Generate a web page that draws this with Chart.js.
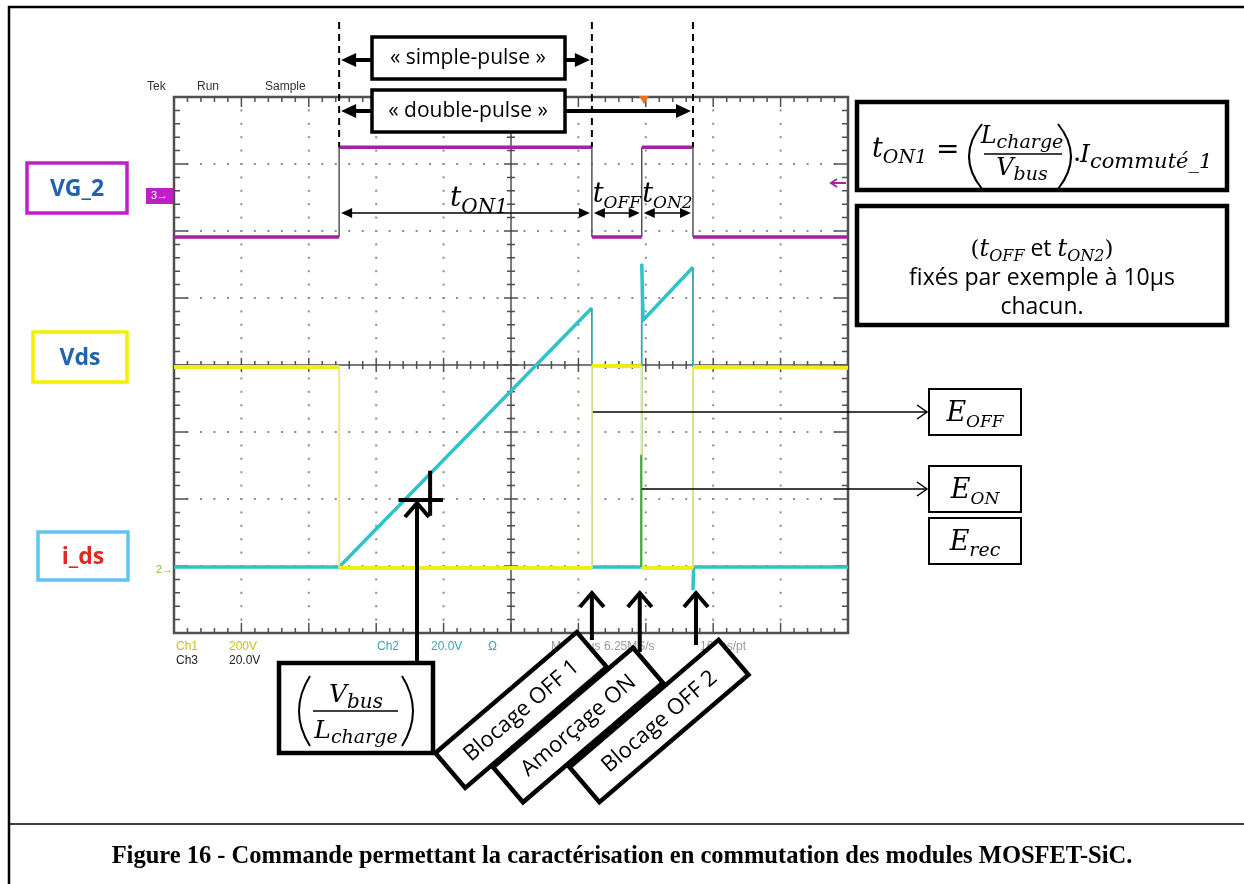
<!DOCTYPE html>
<html>
<head>
<meta charset="utf-8">
<title>Figure 16 - double pulse</title>
<script src="https://cdn.jsdelivr.net/npm/chart.js@4.4.0/dist/chart.umd.min.js"></script>
<style>
  html, body { margin: 0; padding: 0; background: #fff; }
  #wrap { width: 1244px; height: 884px; position: relative; }
</style>
</head>
<body>
<div id="wrap"><canvas id="myChart"></canvas></div>
<script>
// scope screen is 10 x 8 divisions, every value below is read in divisions
const xDivs = [0, 1, 2, 3, 4, 5, 6, 7, 8, 9, 10];
const yDivs = [0, 1, 2, 3, 4, 5, 6, 7, 8];

// VG_2 (ch3, magenta)
const vgTime  = [0, 2.45, 2.45, 6.20, 6.20, 6.94, 6.94, 7.70, 7.70, 10];
const vgLevel = [5.91, 5.91, 7.25, 7.25, 5.91, 5.91, 7.25, 7.25, 5.91, 5.91];
// Vds (ch1, yellow)
const vdsTime  = [0, 2.45, 2.45, 6.20, 6.20, 6.94, 6.94, 7.70, 7.70, 10];
const vdsLevel = [3.97, 3.97, 0.97, 0.97, 3.99, 3.98, 0.97, 0.97, 3.97, 3.96];
// i_ds (ch2, cyan)
const idsTime  = [0, 2.45, 6.20, 6.20, 6.94, 6.94, 6.96, 7.70, 7.70, 7.71, 10];
const idsLevel = [0.985, 0.985, 4.85, 0.985, 0.985, 5.51, 4.67, 5.46, 0.64, 0.985, 0.985];
// green edge at turn-on
const grnTime  = [6.93, 6.93];
const grnLevel = [2.66, 0.985];

// texts
const scopeTop = ['Tek', 'Run', 'Sample'];
const chanLabels = ['VG_2', 'Vds', 'i_ds'];
const switchLabels = ['Blocage OFF 1', 'Amorçage ON', 'Blocage OFF 2'];
const caption = 'Figure 16 - Commande permettant la caractérisation en commutation des modules MOSFET-SiC.';

function pts(xs, ys) {
    return xs.map((v, i) => ({x: v, y: ys[i]}));
}

const SANS = '"Open Sans", "Noto Sans", sans-serif';
const MATH = '"DejaVu Serif", serif';

function head(ctx, x, y, ang, len, half, filled) {
    const bx = x - len * Math.cos(ang), by = y - len * Math.sin(ang);
    const px = -Math.sin(ang) * half, py = Math.cos(ang) * half;
    ctx.beginPath();
    ctx.moveTo(bx + px, by + py);
    ctx.lineTo(x, y);
    ctx.lineTo(bx - px, by - py);
    if (filled) { ctx.closePath(); ctx.fill(); } else { ctx.stroke(); }
}

function arrow(ctx, x1, y1, x2, y2, o) {
    const ang = Math.atan2(y2 - y1, x2 - x1);
    const cut = o.filled ? o.len * 0.7 : 0;
    ctx.lineWidth = o.w;
    ctx.beginPath();
    ctx.moveTo(x1 + (o.both ? cut * Math.cos(ang) : 0), y1 + (o.both ? cut * Math.sin(ang) : 0));
    ctx.lineTo(x2 - cut * Math.cos(ang), y2 - cut * Math.sin(ang));
    ctx.stroke();
    ctx.lineWidth = o.hw || o.w;
    head(ctx, x2, y2, ang, o.len, o.half, o.filled);
    if (o.both) head(ctx, x1, y1, ang + Math.PI, o.len, o.half, o.filled);
}

// parts: {t, s, dy, f}
function math(ctx, x, y, parts, align) {
    const fontOf = p => p.f || ('italic ' + p.s + 'px ' + MATH);
    let w = 0;
    for (const p of parts) { ctx.font = fontOf(p); w += ctx.measureText(p.t).width; }
    let cx = align === 'center' ? x - w / 2 : (align === 'right' ? x - w : x);
    ctx.textAlign = 'left';
    ctx.textBaseline = 'alphabetic';
    for (const p of parts) {
        ctx.font = fontOf(p);
        ctx.fillText(p.t, cx, y + (p.dy || 0));
        cx += ctx.measureText(p.t).width;
    }
    return w;
}

function paren(ctx, x, y1, y2, bulge) {
    ctx.beginPath();
    ctx.moveTo(x, y1);
    ctx.quadraticCurveTo(x + bulge, (y1 + y2) / 2, x, y2);
    ctx.stroke();
}

function box(ctx, x, y, w, h, lw, color) {
    ctx.fillStyle = '#fff';
    ctx.fillRect(x, y, w, h);
    ctx.lineWidth = lw;
    ctx.strokeStyle = color || '#000';
    ctx.strokeRect(x, y, w, h);
    ctx.fillStyle = '#000';
    ctx.strokeStyle = '#000';
}

const whiteBg = {
    id: 'whiteBg',
    beforeDraw(chart) {
        const ctx = chart.ctx;
        ctx.save();
        ctx.fillStyle = '#fff';
        ctx.fillRect(0, 0, chart.width, chart.height);
        ctx.restore();
    }
};

const scopeGrid = {
    id: 'scopeGrid',
    beforeDatasetsDraw(chart) {
        const {ctx, scales: {x, y}} = chart;
        const X = v => x.getPixelForValue(v), Y = v => y.getPixelForValue(v);
        ctx.save();
        // dotted graticule
        ctx.fillStyle = '#8c8c8c';
        for (const d of xDivs) {
            for (let k = 0; k <= 40; k++) ctx.fillRect(X(d) - 1, Y(k * 0.2) - 1, 2, 2);
        }
        for (const d of yDivs) {
            for (let k = 0; k <= 50; k++) ctx.fillRect(X(k * 0.2) - 1, Y(d) - 1, 2, 2);
        }
        ctx.strokeStyle = '#505050';
        // centre cross
        ctx.lineWidth = 1.5;
        ctx.beginPath();
        ctx.moveTo(X(0), Y(4)); ctx.lineTo(X(10), Y(4));
        ctx.moveTo(X(5), Y(0)); ctx.lineTo(X(5), Y(8));
        ctx.stroke();
        ctx.beginPath();
        for (let k = 0; k <= 50; k++) {
            const major = k % 5 === 0;
            const t = major ? 7 : 4;
            const px = X(k * 0.2);
            ctx.moveTo(px, Y(4) - t); ctx.lineTo(px, Y(4) + t);
            const l = major ? 10 : 5;
            ctx.moveTo(px, Y(8)); ctx.lineTo(px, Y(8) + l);
            ctx.moveTo(px, Y(0)); ctx.lineTo(px, Y(0) - l);
        }
        for (let k = 0; k <= 40; k++) {
            const major = k % 5 === 0;
            const t = major ? 7 : 4;
            const py = Y(k * 0.2);
            ctx.moveTo(X(5) - t, py); ctx.lineTo(X(5) + t, py);
            const l = major ? 14 : 6;
            ctx.moveTo(X(0), py); ctx.lineTo(X(0) + l, py);
            ctx.moveTo(X(10), py); ctx.lineTo(X(10) - l, py);
        }
        ctx.stroke();
        ctx.lineWidth = 2.5;
        ctx.strokeRect(X(0), Y(8), X(10) - X(0), Y(0) - Y(8));
        ctx.restore();
    }
};

const annotations = {
    id: 'annotations',
    afterDatasetsDraw(chart) {
        const {ctx, scales: {x, y}} = chart;
        const X = v => x.getPixelForValue(v), Y = v => y.getPixelForValue(v);
        const tR1 = X(vgTime[1]), tF1 = X(vgTime[3]), tR2 = X(vgTime[5]), tF2 = X(vgTime[7]);
        const vgHigh = Y(vgLevel[2]);
        ctx.save();
        ctx.fillStyle = '#000';
        ctx.strokeStyle = '#000';
        ctx.lineCap = 'butt';

        // outer frame of the figure
        ctx.lineWidth = 2.5;
        ctx.beginPath();
        ctx.moveTo(9, 884); ctx.lineTo(9, 7); ctx.lineTo(1244, 7);
        ctx.stroke();
        ctx.lineWidth = 1.5;
        ctx.beginPath();
        ctx.moveTo(9, 824); ctx.lineTo(1244, 824);
        ctx.stroke();

        // scope header / footer texts
        ctx.font = '12px "Liberation Sans", Arial, sans-serif';
        ctx.fillStyle = '#333';
        ctx.textBaseline = 'middle';
        ctx.textAlign = 'left';
        ctx.fillText(scopeTop[0], 147, 87);
        ctx.fillText(scopeTop[1], 197, 87);
        ctx.fillText(scopeTop[2], 265, 87);
        ctx.fillStyle = '#c9c21a';
        ctx.fillText('Ch1', 176, 647);
        ctx.fillText('200V', 229, 647);
        ctx.fillStyle = '#222';
        ctx.fillText('Ch3', 176, 661);
        ctx.fillText('20.0V', 229, 661);
        ctx.fillStyle = '#3aa6b0';
        ctx.fillText('Ch2', 377, 647);
        ctx.fillText('20.0V', 431, 647);
        ctx.fillText('Ω', 488, 647);
        ctx.fillStyle = '#9a9a9a';
        ctx.fillText('M 4.00µs 6.25MS/s', 551, 647);
        ctx.fillText('160ns/pt', 700, 647);

        // channel markers
        ctx.fillStyle = '#c21ec8';
        ctx.fillRect(146, 188, 27, 16);
        ctx.fillStyle = '#fff';
        ctx.font = '11px "Liberation Sans", Arial, sans-serif';
        ctx.fillText('3→', 151, 196);
        ctx.fillStyle = '#8cbf2a';
        ctx.fillText('2→', 156, 570);
        ctx.strokeStyle = '#a0289a';
        ctx.fillStyle = '#a0289a';
        arrow(ctx, 846, 183, 831, 183, {w: 2, len: 6, half: 4, filled: false});
        // trigger marker
        ctx.fillStyle = '#e8731c';
        ctx.beginPath();
        ctx.moveTo(639, 96); ctx.lineTo(649, 96); ctx.lineTo(644, 104); ctx.closePath(); ctx.fill();
        ctx.fillStyle = '#000';
        ctx.strokeStyle = '#000';

        // dashed markers on the pulse edges
        ctx.lineWidth = 2;
        ctx.setLineDash([7, 5]);
        ctx.beginPath();
        for (const px of [tR1, tF1, tF2]) { ctx.moveTo(px, 22); ctx.lineTo(px, vgHigh); }
        ctx.stroke();
        ctx.setLineDash([]);

        // simple / double pulse arrows and boxes
        arrow(ctx, tR1 + 2, 60, tF1 - 2, 60, {w: 4, len: 15, half: 7, filled: true, both: true});
        arrow(ctx, tR1 + 2, 111, tF2 - 2, 111, {w: 4, len: 15, half: 7, filled: true, both: true});
        box(ctx, 372, 37, 193, 42, 3.5);
        box(ctx, 372, 90, 193, 42, 3.5);
        ctx.font = '21px ' + SANS;
        ctx.textAlign = 'center';
        ctx.textBaseline = 'middle';
        ctx.fillText('« simple-pulse »', 468, 58);
        ctx.fillText('« double-pulse »', 468, 111);

        // t_ON1, t_OFF, t_ON2
        const aOpt = {w: 1.5, len: 11, half: 5, filled: true, both: true};
        arrow(ctx, tR1 + 2, 213, tF1 - 2, 213, aOpt);
        arrow(ctx, tF1 + 2, 213, tR2 - 2, 213, aOpt);
        arrow(ctx, tR2 + 2, 213, tF2 - 2, 213, aOpt);
        math(ctx, 479, 206, [{t: 't', s: 28}, {t: 'ON1', s: 20, dy: 7}], 'center');
        math(ctx, (tF1 + tR2) / 2, 202, [{t: 't', s: 27}, {t: 'OFF', s: 17, dy: 6}], 'center');
        math(ctx, (tR2 + tF2) / 2, 202, [{t: 't', s: 27}, {t: 'ON2', s: 17, dy: 6}], 'center');

        // formula box
        box(ctx, 857, 102, 370, 88, 4.5);
        math(ctx, 872, 157, [{t: 't', s: 27}, {t: 'ON1', s: 19, dy: 6}], 'left');
        ctx.font = '28px ' + MATH;
        ctx.textAlign = 'left';
        ctx.textBaseline = 'alphabetic';
        ctx.fillText('=', 936, 158);
        ctx.lineWidth = 2;
        paren(ctx, 982, 124, 189, -26);
        paren(ctx, 1058, 124, 189, 26);
        math(ctx, 1022, 143, [{t: 'L', s: 24}, {t: 'charge', s: 19, dy: 5}], 'center');
        ctx.lineWidth = 1.5;
        ctx.beginPath(); ctx.moveTo(984, 154); ctx.lineTo(1062, 154); ctx.stroke();
        math(ctx, 1022, 175, [{t: 'V', s: 24}, {t: 'bus', s: 19, dy: 5}], 'center');
        ctx.font = '26px ' + MATH;
        ctx.fillText('.', 1073, 161);
        math(ctx, 1080, 162, [{t: 'I', s: 25}, {t: 'commuté_1', s: 21, dy: 6}], 'left');

        // second box
        box(ctx, 857, 206, 370, 119, 4.5);
        const sans23 = '23px ' + SANS;
        math(ctx, 1042, 256, [
            {t: '(', s: 23, f: '23px ' + MATH}, {t: 't', s: 24}, {t: 'OFF', s: 16, dy: 5},
            {t: ' et ', f: sans23}, {t: 't', s: 24}, {t: 'ON2', s: 16, dy: 5},
            {t: ')', f: '23px ' + MATH}], 'center');
        ctx.font = sans23;
        ctx.textAlign = 'center';
        ctx.fillText('fixés par exemple à 10µs', 1042, 285);
        ctx.fillText('chacun.', 1042, 314);

        // energy boxes
        const open = {w: 1.5, len: 10, half: 7, filled: false};
        arrow(ctx, tF1 + 1, 412, 927, 412, open);
        arrow(ctx, tR2, 489, 927, 489, open);
        box(ctx, 929, 389, 92, 46, 2);
        box(ctx, 929, 466, 92, 46, 2);
        box(ctx, 929, 518, 92, 46, 2);
        math(ctx, 975, 421, [{t: 'E', s: 27}, {t: 'OFF', s: 17, dy: 6}], 'center');
        math(ctx, 975, 498, [{t: 'E', s: 27}, {t: 'ON', s: 17, dy: 6}], 'center');
        math(ctx, 975, 550, [{t: 'E', s: 27}, {t: 'rec', s: 19, dy: 6}], 'center');

        // channel name boxes on the left
        const chBoxes = [[27, 163, 100, 50, '#c21ec8', '#1f63ad'],
                         [33, 332, 94, 50, '#f4f000', '#1f63ad'],
                         [38, 532, 90, 48, '#62c3ef', '#e5261f']];
        ctx.font = 'bold 23px ' + SANS;
        ctx.textAlign = 'center';
        ctx.textBaseline = 'middle';
        chBoxes.forEach((b, i) => {
            ctx.lineWidth = 3.5;
            ctx.strokeStyle = b[4];
            ctx.strokeRect(b[0], b[1], b[2], b[3]);
            ctx.fillStyle = b[5];
            ctx.fillText(chanLabels[i], b[0] + b[2] / 2, b[1] + b[3] / 2 + 1);
        });
        ctx.fillStyle = '#000';
        ctx.strokeStyle = '#000';

        // slope cursor and its box
        const thick = {w: 4, len: 14, half: 12, filled: false};
        ctx.lineWidth = 4;
        ctx.beginPath();
        ctx.moveTo(X(3.33), Y(1.985)); ctx.lineTo(X(3.99), Y(1.985));
        ctx.moveTo(X(3.80), Y(2.42)); ctx.lineTo(X(3.80), Y(1.75));
        ctx.stroke();
        arrow(ctx, 417, 663, 417, 503, thick);
        box(ctx, 279, 663, 154, 90, 4.5);
        ctx.lineWidth = 2;
        paren(ctx, 310, 676, 746, -22);
        paren(ctx, 402, 676, 746, 22);
        math(ctx, 356, 702, [{t: 'V', s: 25}, {t: 'bus', s: 20, dy: 6}], 'center');
        ctx.lineWidth = 1.5;
        ctx.beginPath(); ctx.moveTo(313, 711); ctx.lineTo(398, 711); ctx.stroke();
        math(ctx, 356, 738, [{t: 'L', s: 25}, {t: 'charge', s: 19, dy: 5}], 'center');

        // switching event arrows and rotated boxes
        arrow(ctx, tF1, 640, tF1, 593, thick);
        arrow(ctx, tR2 - 2, 652, tR2 - 2, 593, thick);
        arrow(ctx, tF2 + 3, 645, tF2 + 3, 593, thick);
        const rot = [[521, 710, 186], [578, 725, 184], [659, 721, 196]];
        const ang = -40.5 * Math.PI / 180;
        rot.forEach((r, i) => {
            ctx.save();
            ctx.translate(r[0], r[1]);
            ctx.rotate(ang);
            box(ctx, -r[2] / 2, -23, r[2], 46, 4.5);
            ctx.font = '22px ' + SANS;
            ctx.textAlign = 'center';
            ctx.textBaseline = 'middle';
            ctx.fillText(switchLabels[i], 0, 1);
            ctx.restore();
        });

        // caption
        ctx.font = 'bold 24.5px "Liberation Serif", "Times New Roman", serif';
        ctx.textAlign = 'center';
        ctx.textBaseline = 'alphabetic';
        ctx.fillStyle = '#000';
        ctx.fillText(caption, 622, 863);
        ctx.restore();
    }
};

const vertical = c => c.p0.parsed.x === c.p1.parsed.x;

var ctx = document.getElementById('myChart').getContext('2d');
var chart = new Chart(ctx, {
    type: 'scatter',
    data: {
        datasets: [{
            label: 'VG_2',
            data: pts(vgTime, vgLevel),
            borderColor: '#a3239c',
            showLine: true,
            borderWidth: 3.5,
            pointRadius: 0,
            order: 1,
            segment: {
                borderWidth: c => vertical(c) ? 1.5 : 3.5,
                borderColor: c => vertical(c) ? '#555' : '#a3239c'
            }
        },
        {
            label: 'green',
            data: pts(grnTime, grnLevel),
            borderColor: '#3fae49',
            showLine: true,
            borderWidth: 2,
            pointRadius: 0,
            order: 2
        },
        {
            label: 'Vds',
            data: pts(vdsTime, vdsLevel),
            borderColor: '#f0ec16',
            showLine: true,
            borderWidth: 4,
            pointRadius: 0,
            order: 3,
            segment: {
                borderWidth: c => vertical(c) ? 1.8 : 4,
                borderColor: c => vertical(c) ? '#ecea7a' : '#f0ec16'
            }
        },
        {
            label: 'i_ds',
            data: pts(idsTime, idsLevel),
            borderColor: '#2fc3c8',
            showLine: true,
            borderWidth: 3.5,
            pointRadius: 0,
            order: 4,
            segment: {
                borderWidth: c => vertical(c) ? 1.8 : 3.5,
                borderColor: c => vertical(c) ? '#3aa7ad' : '#2fc3c8'
            }
        }]
    },
    options: {
        responsive: true,
        maintainAspectRatio: false,
        animation: false,
        events: [],
        layout: {padding: {left: 174, right: 396, top: 97, bottom: 251}},
        scales: {
            x: {type: 'linear', min: 0, max: 10, display: false},
            y: {type: 'linear', min: 0, max: 8, display: false}
        },
        plugins: {legend: {display: false}, tooltip: {enabled: false}}
    },
    plugins: [whiteBg, scopeGrid, annotations]
});
</script>
</body>
</html>
